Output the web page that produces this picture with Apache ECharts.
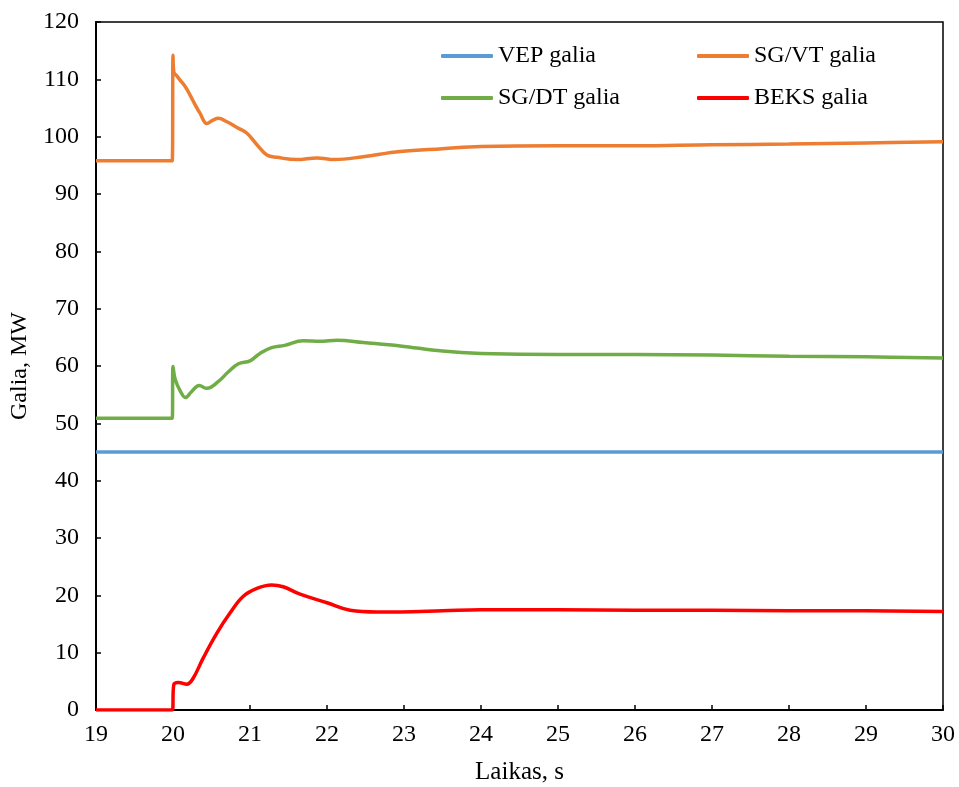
<!DOCTYPE html>
<html>
<head>
<meta charset="utf-8">
<script src="https://cdn.jsdelivr.net/npm/echarts@6/dist/echarts.min.js"></script>
<style>html,body{margin:0;padding:0;background:#fff;}#c{width:959px;height:787px;}</style>
</head>
<body>
<div id="c"></div>
<script>
// ---- data ----
const seriesNames = ['VEP galia', 'SG/VT galia', 'SG/DT galia', 'BEKS galia'];
const xTicks = [19, 20, 21, 22, 23, 24, 25, 26, 27, 28, 29, 30];
const yTicks = [0, 10, 20, 30, 40, 50, 60, 70, 80, 90, 100, 110, 120];

const vepTime = [19, 30];
const vepValues = [45, 45];

const vtTime = [19, 19.99, 20.0, 20.01, 20.05, 20.09, 20.16, 20.22, 20.29, 20.35, 20.44, 20.52, 20.59, 20.70, 20.83, 20.96, 21.09, 21.22, 21.35, 21.61, 21.87, 22.1, 22.47, 22.95, 23.5, 24, 25, 26, 27, 28, 29, 30];
const vtValues = [95.8, 95.8, 114.2, 111.3, 110.6, 109.9, 108.7, 107.3, 105.5, 104.1, 102.3, 102.9, 103.2, 102.6, 101.6, 100.6, 98.6, 96.8, 96.4, 96.0, 96.3, 96.0, 96.5, 97.4, 97.9, 98.3, 98.4, 98.4, 98.6, 98.7, 98.9, 99.1];

const dtTime = [19, 19.99, 20.0, 20.03, 20.1, 20.16, 20.24, 20.34, 20.44, 20.59, 20.72, 20.85, 21.0, 21.13, 21.28, 21.45, 21.69, 21.91, 22.13, 22.47, 22.95, 23.5, 24, 25, 26, 27, 28, 29, 30];
const dtValues = [50.9, 50.9, 59.9, 57.6, 55.5, 54.5, 55.5, 56.6, 56.1, 57.3, 59.0, 60.4, 60.9, 62.2, 63.2, 63.6, 64.4, 64.3, 64.5, 64.1, 63.5, 62.6, 62.2, 62.0, 62.0, 61.9, 61.7, 61.6, 61.4];

const beksTime = [19, 19.99, 20.01, 20.07, 20.18, 20.26, 20.39, 20.57, 20.74, 20.91, 21.09, 21.28, 21.43, 21.65, 22.0, 22.3, 22.65, 22.95, 23.5, 24, 25, 26, 27, 28, 29, 30];
const beksValues = [0, 0, 4.4, 4.8, 4.5, 5.5, 9.0, 13.4, 16.9, 19.8, 21.2, 21.8, 21.5, 20.2, 18.7, 17.4, 17.1, 17.1, 17.3, 17.5, 17.5, 17.4, 17.4, 17.3, 17.3, 17.2];

const colors = ['#5B9BD5', '#ED7D31', '#70AD47', '#FF0000'];

// ---- chart ----
const pairs = (t, v) => t.map((x, i) => [x, v[i]]);
const allData = [pairs(vepTime, vepValues), pairs(vtTime, vtValues), pairs(dtTime, dtValues), pairs(beksTime, beksValues)];
const font = '"Liberation Serif", "Times New Roman", serif';

const legendPos = [
  { left: 441, top: 43 },
  { left: 697, top: 43 },
  { left: 441, top: 85 },
  { left: 697, top: 85 }
];

const chart = echarts.init(document.getElementById('c'), null, { renderer: 'canvas' });
chart.setOption({
  animation: false,
  backgroundColor: '#fff',
  grid: { left: 96, right: 16, top: 22, bottom: 77, outerBoundsMode: 'none', containLabel: false, show: true, borderColor: '#000', borderWidth: 1.5, backgroundColor: 'transparent' },
  legend: seriesNames.map((n, i) => ({
    data: [n],
    left: legendPos[i].left,
    top: legendPos[i].top,
    icon: 'roundRect',
    itemWidth: 52,
    itemHeight: 4,
    itemGap: 0,
    textStyle: { fontFamily: font, fontSize: 24, color: '#000', lineHeight: 26, padding: [0, 0, 0, 0] },
    padding: 0
  })),
  xAxis: {
    type: 'value', min: xTicks[0], max: xTicks[xTicks.length - 1], interval: 1,
    name: 'Laikas, s', nameLocation: 'middle', nameGap: 50,
    nameTextStyle: { fontFamily: font, fontSize: 25, color: '#000' },
    axisLine: { show: true, lineStyle: { color: '#000', width: 2 } },
    axisTick: { show: true, inside: true, length: 5, lineStyle: { color: '#000', width: 1.5 } },
    axisLabel: { fontFamily: font, fontSize: 24, color: '#000', margin: 13 },
    splitLine: { show: false }
  },
  yAxis: {
    type: 'value', min: yTicks[0], max: yTicks[yTicks.length - 1], interval: 10,
    name: 'Galia, MW', nameLocation: 'middle', nameGap: 64,
    nameTextStyle: { fontFamily: font, fontSize: 24, color: '#000' },
    axisLine: { show: true, lineStyle: { color: '#000', width: 2 } },
    axisTick: { show: true, inside: true, length: 5, lineStyle: { color: '#000', width: 1.5 } },
    axisLabel: { fontFamily: font, fontSize: 24, color: '#000', margin: 17 },
    splitLine: { show: false }
  },
  series: seriesNames.map((n, i) => ({
    name: n, type: 'line', data: allData[i],
    showSymbol: false, symbol: 'none',
    smooth: 0.4,
    lineStyle: { color: colors[i], width: 3.5 },
    itemStyle: { color: colors[i] },
    z: i === 0 ? 2 : 3
  }))
});
</script>
</body>
</html>
